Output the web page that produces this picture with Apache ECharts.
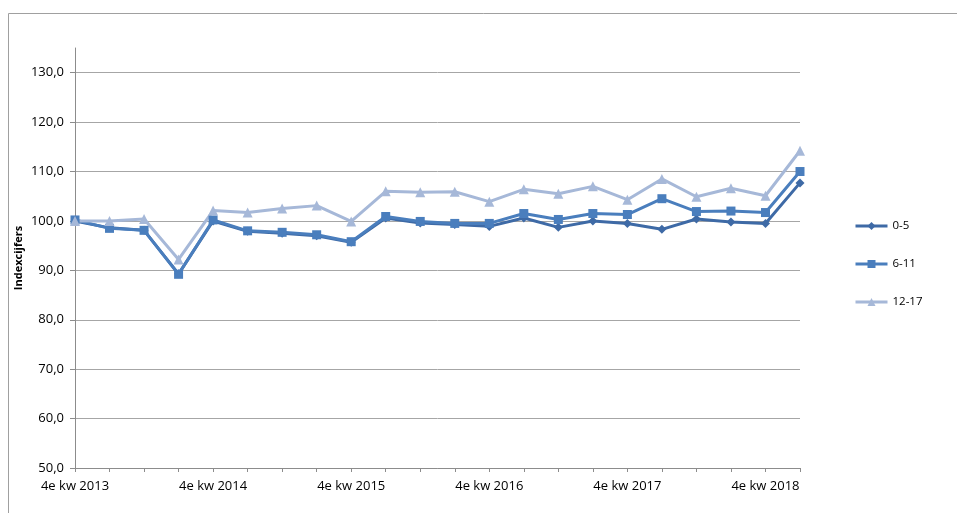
<!DOCTYPE html>
<html>
<head>
<meta charset="utf-8">
<script src="https://cdn.jsdelivr.net/npm/echarts@6/dist/echarts.min.js"></script>
<style>
html,body{margin:0;padding:0;background:#fff;}
#chart{width:957px;height:513px;}
</style>
</head>
<body>
<div id="chart"></div>
<script>
const categories = [
  '4e kw 2013','1e kw 2014','2e kw 2014','3e kw 2014',
  '4e kw 2014','1e kw 2015','2e kw 2015','3e kw 2015',
  '4e kw 2015','1e kw 2016','2e kw 2016','3e kw 2016',
  '4e kw 2016','1e kw 2017','2e kw 2017','3e kw 2017',
  '4e kw 2017','1e kw 2018','2e kw 2018','3e kw 2018',
  '4e kw 2018','1e kw 2019'
];
const seriesNames = ['0-5', '6-11', '12-17'];
const values0to5 = [100.0, 98.6, 98.1, 89.3, 100.0, 97.9, 97.5, 97.0, 95.7, 100.6, 99.6, 99.3,
                    98.9, 100.6, 98.7, 100.0, 99.5, 98.3, 100.4, 99.8, 99.5, 107.7];
const values6to11 = [100.2, 98.5, 98.1, 89.2, 100.2, 98.0, 97.7, 97.2, 95.8, 100.9, 99.9, 99.5,
                     99.5, 101.5, 100.3, 101.5, 101.3, 104.5, 101.9, 102.0, 101.7, 110.0];
const values12to17 = [100.0, 100.0, 100.4, 92.2, 102.1, 101.7, 102.5, 103.1, 99.9, 106.0, 105.8, 105.9,
                      103.9, 106.4, 105.5, 107.0, 104.3, 108.5, 104.9, 106.6, 105.1, 114.2];
const yTicks = [50, 60, 70, 80, 90, 100, 110, 120, 130];

const colors = ['#3e6aa6', '#4a7ebd', '#a6b8d8'];
const font = '"Open Sans", "Noto Sans", sans-serif';
const grid = '#a6a6a6';

const chart = echarts.init(document.getElementById('chart'), null, {renderer: 'canvas'});
chart.setOption({
  animation: false,
  backgroundColor: '#ffffff',
  graphic: [{
    type: 'rect',
    shape: {x: 8.5, y: 13.5, width: 1000, height: 600},
    style: {fill: 'none', stroke: '#a0a0a0', lineWidth: 1},
    silent: true
  }],
  grid: {left: 75, right: 157, top: 48, bottom: 45, containLabel: false},
  legend: {
    orient: 'vertical',
    left: 849,
    top: 215,
    itemWidth: 32,
    itemHeight: 10,
    itemGap: 26,
    lineStyle: {width: 3},
    textStyle: {fontFamily: font, fontSize: 11.5, color: '#000'},
    data: seriesNames
  },
  xAxis: {
    type: 'category',
    data: categories,
    boundaryGap: false,
    axisLine: {lineStyle: {color: '#8c8c8c', width: 1}},
    axisTick: {show: true, interval: 0, length: 4, inside: false, lineStyle: {color: '#8c8c8c'}},
    axisLabel: {interval: 3, margin: 12, fontFamily: font, fontSize: 13, color: '#000'},
    splitLine: {show: false}
  },
  yAxis: {
    type: 'value',
    min: 50,
    max: 135,
    interval: 10,
    name: 'Indexcijfers',
    nameLocation: 'middle',
    nameGap: 51,
    nameMoveOverlap: false,
    nameRotate: 90,
    nameTextStyle: {fontFamily: font, fontSize: 11, fontWeight: 'bold', color: '#000'},
    axisLine: {show: true, lineStyle: {color: '#8c8c8c', width: 1}},
    axisTick: {show: true, length: 5, customValues: yTicks, lineStyle: {color: '#8c8c8c'}},
    axisLabel: {
      customValues: yTicks,
      margin: 11,
      fontFamily: font, fontSize: 13, color: '#000',
      formatter: v => (v % 10 === 0 ? v.toFixed(1).replace('.', ',') : '')
    },
    splitLine: {show: true,
      lineStyle: {color: [grid, grid, grid, grid, grid, grid, grid, grid, grid, 'rgba(0,0,0,0)'], width: 1}}
  },
  series: [
    {
      name: seriesNames[0], type: 'line', data: values0to5,
      symbol: 'diamond', symbolSize: 9, showAllSymbol: true,
      lineStyle: {width: 3, color: colors[0]},
      itemStyle: {color: colors[0]}
    },
    {
      name: seriesNames[1], type: 'line', data: values6to11,
      symbol: 'rect', symbolSize: 9, showAllSymbol: true,
      lineStyle: {width: 3, color: colors[1]},
      itemStyle: {color: colors[1]}
    },
    {
      name: seriesNames[2], type: 'line', data: values12to17,
      symbol: 'triangle', symbolSize: 10, showAllSymbol: true,
      lineStyle: {width: 3, color: colors[2]},
      itemStyle: {color: colors[2]}
    }
  ]
});
</script>
</body>
</html>
